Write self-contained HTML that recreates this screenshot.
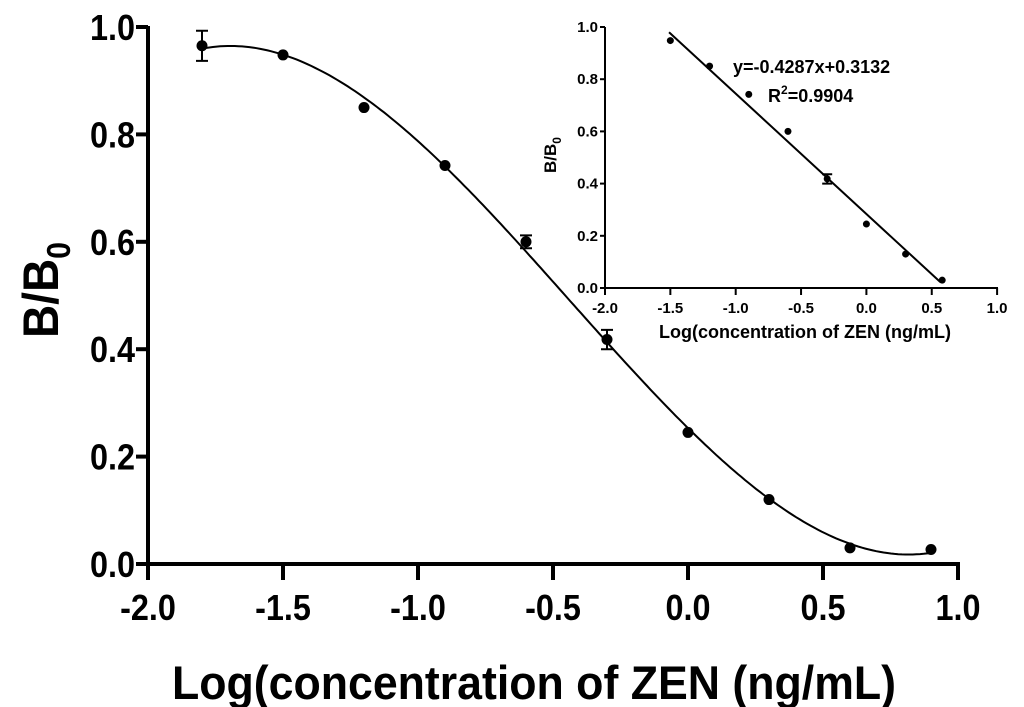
<!DOCTYPE html>
<html><head><meta charset="utf-8"><style>
html,body{margin:0;padding:0;background:#fff;}
svg{display:block;font-family:"Liberation Sans",Arial,sans-serif;font-weight:bold;}
</style></head><body>
<svg id="chart" width="1024" height="707" viewBox="0 0 1024 707" xmlns="http://www.w3.org/2000/svg">
<g id="main"></g>
<g id="inset"></g>
</svg>
<script>
const mainX = [-1.8,-1.5,-1.2,-0.9,-0.6,-0.3,0,0.3,0.6,0.9];
const mainY = [0.965,0.948,0.85,0.742,0.60,0.418,0.245,0.12,0.03,0.027];
const mainErr = [0.028,0,0,0,0.012,0.018,0,0,0,0];
const mainXTicks = [-2.0,-1.5,-1.0,-0.5,0.0,0.5,1.0];
const mainYTicks = [0.0,0.2,0.4,0.6,0.8,1.0];
const insetX = [-1.5,-1.2,-0.9,-0.6,-0.3,0,0.3,0.58];
const insetY = [0.948,0.85,0.742,0.60,0.418,0.245,0.13,0.03];
const insetErr = [0,0,0,0,0.018,0,0,0];
const insetLineX = [-1.51,0.565];
const insetLineY = [0.98,0.023];
const insetXTicks = [-2.0,-1.5,-1.0,-0.5,0.0,0.5,1.0];
const insetYTicks = [0.0,0.2,0.4,0.6,0.8,1.0];

const NS="http://www.w3.org/2000/svg";
function mk(parent,tag,attrs,text){const e=document.createElementNS(NS,tag);for(const k in attrs)e.setAttribute(k,attrs[k]);if(text!==undefined)e.textContent=text;parent.appendChild(e);return e;}

function polyfit(xs,ys,deg){const n=deg+1;const A=[];for(let i=0;i<n;i++){A.push(new Array(n+1).fill(0));}
for(let k=0;k<xs.length;k++){for(let i=0;i<n;i++){for(let j=0;j<n;j++)A[i][j]+=Math.pow(xs[k],i+j);A[i][n]+=ys[k]*Math.pow(xs[k],i);}}
for(let i=0;i<n;i++){let p=i;for(let r=i+1;r<n;r++)if(Math.abs(A[r][i])>Math.abs(A[p][i]))p=r;[A[i],A[p]]=[A[p],A[i]];for(let r=0;r<n;r++){if(r===i)continue;const f=A[r][i]/A[i][i];for(let c=i;c<=n;c++)A[r][c]-=f*A[i][c];}}
return A.map((row,i)=>row[n]/row[i]);}

// ---- main
const M=document.getElementById('main');
const mx=v=>148+(v+2)*270, my=v=>564-v*537;
mk(M,'line',{x1:148,y1:my(0),x2:960,y2:my(0),stroke:'#000','stroke-width':4});
mk(M,'line',{x1:148,y1:26,x2:148,y2:my(0)+2,stroke:'#000','stroke-width':4});
mainXTicks.forEach(t=>{
 const l=mk(M,'line',{x1:mx(t),y1:my(0),x2:mx(t),y2:my(0)+16,stroke:'#000','stroke-width':4});
 
 
 const tx=mk(M,'text',{x:0,y:0,'font-size':36,'text-anchor':'middle',transform:`translate(${mx(t)},${my(0)+56}) scale(0.9,1)`},t.toFixed(1));
 
 
});
mainYTicks.forEach(t=>{
 const l=mk(M,'line',{x1:136,y1:my(t),x2:148,y2:my(t),stroke:'#000','stroke-width':4});
 
 
 const tx=mk(M,'text',{x:0,y:0,'font-size':36,'text-anchor':'end',transform:`translate(135,${my(t)+13}) scale(0.9,1)`},t.toFixed(1));
 
 
});
const co=polyfit(mainX,mainY,3);
let d='';for(let i=0;i<=200;i++){const x=mainX[0]+(mainX[mainX.length-1]-mainX[0])*i/200;let y=0;co.forEach((c,k)=>y+=c*Math.pow(x,k));d+=(i?'L':'M')+mx(x).toFixed(1)+','+my(y).toFixed(1);}
const fc=mk(M,'path',{d:d,fill:'none',stroke:'#000','stroke-width':2});


mainX.forEach((x,i)=>{
 if(mainErr[i]>0){const e=mk(M,'path',{d:`M${mx(x)},${my(mainY[i]+mainErr[i])}V${my(mainY[i]-mainErr[i])}M${mx(x)-6},${my(mainY[i]+mainErr[i])}h12M${mx(x)-6},${my(mainY[i]-mainErr[i])}h12`,stroke:'#000','stroke-width':2,fill:'none'});
 
 }
 const c=mk(M,'circle',{cx:mx(x),cy:my(mainY[i]),r:5.5,fill:'#000'});
 
 
});
const yt=mk(M,'text',{x:0,y:0,'font-size':50,'text-anchor':'middle',transform:'translate(58,290) rotate(-90) scale(0.92,1)'});


yt.innerHTML='B/B<tspan font-size="33" dy="12">0</tspan>';
const xt=mk(M,'text',{x:0,y:0,'font-size':47,'text-anchor':'middle',transform:'translate(534,699) scale(0.95,1)'},'Log(concentration of ZEN (ng/mL)');



// ---- inset
const I=document.getElementById('inset');
const ix=v=>605+(v+2)*130.7, iy=v=>288-v*261;
mk(I,'line',{x1:605,y1:iy(0),x2:998,y2:iy(0),stroke:'#000','stroke-width':2});
mk(I,'line',{x1:605,y1:27,x2:605,y2:iy(0),stroke:'#000','stroke-width':2});
insetXTicks.forEach(t=>{
 const l=mk(I,'line',{x1:ix(t),y1:iy(0),x2:ix(t),y2:iy(0)+7,stroke:'#000','stroke-width':2});
 
 
 const tx=mk(I,'text',{x:ix(t),y:iy(0)+25,'font-size':15,'text-anchor':'middle'},t.toFixed(1));
 
 
});
insetYTicks.forEach(t=>{
 const l=mk(I,'line',{x1:600,y1:iy(t),x2:605,y2:iy(t),stroke:'#000','stroke-width':2});
 
 
 const tx=mk(I,'text',{x:598,y:iy(t)+5,'font-size':15,'text-anchor':'end'},t.toFixed(1));
 
 
});
const il=mk(I,'line',{x1:ix(insetLineX[0]),y1:iy(insetLineY[0]),x2:ix(insetLineX[1]),y2:iy(insetLineY[1]),stroke:'#000','stroke-width':2});


insetX.forEach((x,i)=>{
 if(insetErr[i]>0){const e=mk(I,'path',{d:`M${ix(x)},${iy(insetY[i]+insetErr[i])}V${iy(insetY[i]-insetErr[i])}M${ix(x)-5},${iy(insetY[i]+insetErr[i])}h10M${ix(x)-5},${iy(insetY[i]-insetErr[i])}h10`,stroke:'#000','stroke-width':2,fill:'none'});
 
 }
 const c=mk(I,'circle',{cx:ix(x),cy:iy(insetY[i]),r:3.5,fill:'#000'});
 
 
});
const eq=mk(I,'text',{x:733,y:73,'font-size':18},'y=-0.4287x+0.3132');


const r2=mk(I,'text',{x:768,y:102,'font-size':18});


r2.innerHTML='R<tspan font-size="12" dy="-8">2</tspan><tspan dy="8">=0.9904</tspan>';
const iyt=mk(I,'text',{x:0,y:0,'font-size':17,'text-anchor':'middle',transform:'translate(556,155) rotate(-90)'});


iyt.innerHTML='B/B<tspan font-size="12" dy="5">0</tspan>';
const ixt=mk(I,'text',{x:805,y:338,'font-size':18,'text-anchor':'middle'},'Log(concentration of ZEN (ng/mL)');


</script>
</body></html>
